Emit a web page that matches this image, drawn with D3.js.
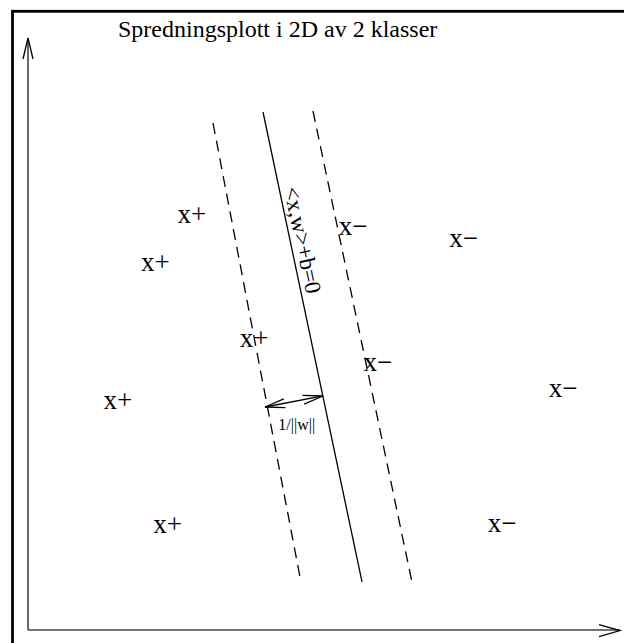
<!DOCTYPE html>
<html>
<head>
<meta charset="utf-8">
<script src="https://cdn.jsdelivr.net/npm/d3@7"></script>
<style>
  body { margin: 0; background: #fff; }
  svg { display: block; }
  text { font-family: "Liberation Serif", "Times New Roman", serif; fill: #000; }
</style>
</head>
<body>
<script>
// scatter plot of two classes with a separating line (schematic, unitless 0..10 axes)
const WIDTH = 624
const HEIGHT = 643

const TITLE = "Spredningsplott i 2D av 2 klasser"

// class points, x/y in plot units
const plusX  = [2.77, 2.15, 3.82, 1.52, 2.36]
const plusY  = [6.99, 6.18, 4.90, 3.85, 1.76]
const minusX = [5.49, 7.36, 5.91, 9.04, 8.01]
const minusY = [6.79, 6.59, 4.49, 4.05, 1.77]

// separating line and the two margin lines: [x1, y1, x2, y2]
const hyperplane = [3.97, 8.75, 5.642, 0.811]
const marginLeft = [3.125, 8.564, 4.611, 0.811]
const marginRight = [4.814, 8.767, 6.486, 0.811]

// margin width arrow
const marginArrow = [4.003, 3.767, 4.983, 3.953]

const planeLabel = "<x,w>+b=0"
const planeLabelPos = [4.645, 6.588]
const marginLabel = "1/||w||"
const marginLabelPos = [4.54, 3.38]

const svg = d3.select("body")
    .append("svg")
    .attr("width", WIDTH)
    .attr("height", HEIGHT)

const xScale = d3.scaleLinear().domain([0, 10]).range([28, 620])
const yScale = d3.scaleLinear().domain([0, 10]).range([630, 38])

// outer frame (only top and left edges fit in the picture)
svg.append("rect")
    .attr("x", 12.5)
    .attr("y", 11.3)
    .attr("width", 800)
    .attr("height", 800)
    .attr("fill", "none")
    .attr("stroke", "#000")
    .attr("stroke-width", 2.8)

// axes
const axisColor = "#444"
svg.append("line")
    .attr("x1", xScale(0)).attr("y1", yScale(0))
    .attr("x2", xScale(0)).attr("y2", yScale(10))
    .attr("stroke", axisColor).attr("stroke-width", 1.6)
svg.append("line")
    .attr("x1", xScale(0)).attr("y1", yScale(0))
    .attr("x2", xScale(10)).attr("y2", yScale(0))
    .attr("stroke", axisColor).attr("stroke-width", 1.6)

// arrow heads on the axes
const yTip = [xScale(0), yScale(10)]
const xTip = [xScale(10), yScale(0) + 0.5]
svg.append("polyline")
    .attr("points", [[yTip[0] - 5, yTip[1] + 21], yTip, [yTip[0] + 5, yTip[1] + 21]].join(" "))
    .attr("fill", "none").attr("stroke", "#000").attr("stroke-width", 1.3)
svg.append("polyline")
    .attr("points", [[xTip[0] - 21, xTip[1] - 6], xTip, [xTip[0] - 21, xTip[1] + 6]].join(" "))
    .attr("fill", "none").attr("stroke", "#000").attr("stroke-width", 1.3)

// title
svg.append("text")
    .attr("x", 118)
    .attr("y", 36.5)
    .style("font-size", "24px")
    .text(TITLE)

// lines
const drawLine = (l, dashed) => {
    svg.append("line")
        .attr("x1", xScale(l[0])).attr("y1", yScale(l[1]))
        .attr("x2", xScale(l[2])).attr("y2", yScale(l[3]))
        .attr("stroke", "#000")
        .attr("stroke-width", 1.3)
        .attr("stroke-dasharray", dashed ? "11,7" : null)
}
drawLine(marginLeft, true)
drawLine(hyperplane, false)
drawLine(marginRight, true)

// points
const plus = plusX.map((x, i) => ({x: x, y: plusY[i], label: "x+"}))
const minus = minusX.map((x, i) => ({x: x, y: minusY[i], label: "x\u2212"}))

svg.selectAll(".pt")
    .data(plus.concat(minus))
    .join("text")
    .attr("class", "pt")
    .attr("x", d => xScale(d.x))
    .attr("y", d => yScale(d.y))
    .attr("dy", "0.26em")
    .attr("text-anchor", "middle")
    .style("font-size", "27px")
    .text(d => d.label)

// label along the separating line
const angle = Math.atan2(yScale(hyperplane[3]) - yScale(hyperplane[1]),
                         xScale(hyperplane[2]) - xScale(hyperplane[0])) * 180 / Math.PI
svg.append("text")
    .attr("transform", `translate(${xScale(planeLabelPos[0])},${yScale(planeLabelPos[1])}) rotate(${angle})`)
    .attr("text-anchor", "middle")
    .attr("dy", "0.35em")
    .style("font-size", "23px")
    .text(planeLabel)

// margin arrow (double headed)
const a1 = [xScale(marginArrow[0]), yScale(marginArrow[1])]
const a2 = [xScale(marginArrow[2]), yScale(marginArrow[3])]
svg.append("line")
    .attr("x1", a1[0]).attr("y1", a1[1])
    .attr("x2", a2[0]).attr("y2", a2[1])
    .attr("stroke", "#000").attr("stroke-width", 1.3)

const head = (tip, from) => {
    const dx = from[0] - tip[0], dy = from[1] - tip[1]
    const len = Math.sqrt(dx * dx + dy * dy)
    const ux = dx / len, uy = dy / len
    const L = 20, W = 4.5
    const p1 = [tip[0] + ux * L - uy * W, tip[1] + uy * L + ux * W]
    const p2 = [tip[0] + ux * L + uy * W, tip[1] + uy * L - ux * W]
    svg.append("polyline")
        .attr("points", [p1, tip, p2].join(" "))
        .attr("fill", "none").attr("stroke", "#000").attr("stroke-width", 1.3)
}
head(a1, a2)
head(a2, a1)

svg.append("text")
    .attr("x", xScale(marginLabelPos[0]))
    .attr("y", yScale(marginLabelPos[1]))
    .attr("text-anchor", "middle")
    .style("font-size", "16px")
    .text(marginLabel)
</script>
</body>
</html>
